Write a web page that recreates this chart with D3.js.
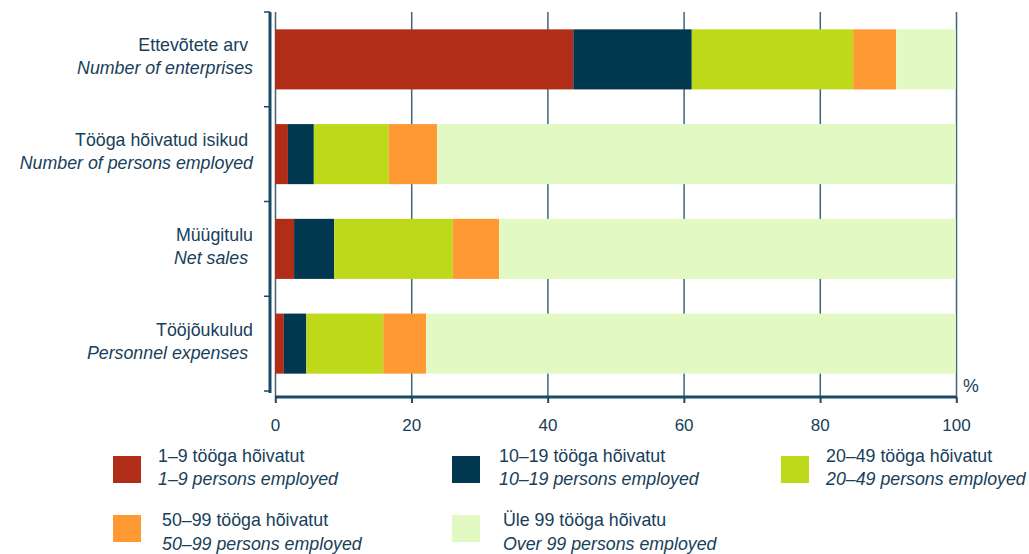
<!DOCTYPE html>
<html>
<head>
<meta charset="utf-8">
<script src="https://cdn.jsdelivr.net/npm/d3@7"></script>
<style>
  body { margin: 0; background: #fff; }
  text { font-family: "Liberation Sans", Arial, sans-serif; fill: #17405a; }
</style>
</head>
<body>
<svg id="chart" width="1029" height="554"></svg>
<script>
// categories (Estonian / English)
const categoriesEt = ['Ettevõtete arv ', 'Tööga hõivatud isikud ', 'Müügitulu', 'Tööjõukulud'];
const categoriesEn = ['Number of enterprises', 'Number of persons employed', 'Net sales ', 'Personnel expenses '];

// size classes
const seriesEt = ['1–9 tööga hõivatut', '10–19 tööga hõivatut', '20–49 tööga hõivatut', '50–99 tööga hõivatut', 'Üle 99 tööga hõivatu'];
const seriesEn = ['1–9 persons employed', '10–19 persons employed', '20–49 persons employed', '50–99 persons employed', 'Over 99 persons employed'];
const colors   = ['#b22d17', '#023750', '#bed91a', '#ff9933', '#e2f9c4'];

// shares, % (per category, per size class)
const s1to9    = [43.8, 1.9, 2.8, 1.3];
const s10to19  = [17.4, 3.8, 5.9, 3.3];
const s20to49  = [23.7, 11.0, 17.4, 11.3];
const s50to99  = [6.3, 7.1, 6.8, 6.3];
const sOver99  = [8.8, 76.2, 67.1, 77.8];

const xTicks = [0, 20, 40, 60, 80, 100];

const svg = d3.select('#chart');
const axisColor = '#1b4a66';
const fs = '17.8px';

const x = d3.scaleLinear().domain([0, 100]).range([275, 956]);
const y = d3.scaleBand().domain(d3.range(categoriesEt.length)).range([12, 391])
    .paddingInner(0.366).paddingOuter(0.183);

const rows = categoriesEt.map((c, i) => ({
    i: i, s0: s1to9[i], s1: s10to19[i], s2: s20to49[i], s3: s50to99[i], s4: sOver99[i]
}));
const stack = d3.stack().keys(['s0', 's1', 's2', 's3', 's4']);
const layers = stack(rows);

// gridlines
svg.append('g').selectAll('line').data(xTicks).join('line')
    .attr('x1', d => x(d) + 0.5).attr('x2', d => x(d) + 0.5)
    .attr('y1', 12).attr('y2', 403)
    .attr('stroke', '#3f6478').attr('stroke-width', 1.5);

// bars
svg.append('g').selectAll('g').data(layers).join('g')
    .attr('fill', (d, k) => colors[k])
    .selectAll('rect').data(d => d).join('rect')
    .attr('x', d => x(d[0]))
    .attr('y', d => y(d.data.i))
    .attr('width', d => x(d[1]) - x(d[0]))
    .attr('height', y.bandwidth());

// bottom axis
const xAxis = d3.axisBottom(x).tickValues(xTicks).tickSize(6).tickFormat(d3.format('d'));
const gx = svg.append('g').attr('transform', 'translate(0,397)').call(xAxis);
gx.select('.domain').attr('stroke', axisColor).attr('stroke-width', 3)
    .attr('d', `M${x(0)},0H${x(100) + 1}`);
gx.selectAll('.tick line').attr('stroke', axisColor).attr('stroke-width', 1.5).attr('x1', 0.5).attr('x2', 0.5);
gx.selectAll('.tick text').attr('y', 22).attr('dy', '0.71em')
    .style('font-size', '17px').style('font-family', '"Liberation Sans", Arial, sans-serif').attr('fill', '#17405a');

// left axis (category separators)
const bounds = d3.range(categoriesEt.length + 1).map(k => 12 + k * y.step());
const gy = svg.append('g');
gy.append('line').attr('x1', 270).attr('x2', 270).attr('y1', 12).attr('y2', 393)
    .attr('stroke', axisColor).attr('stroke-width', 3);
gy.selectAll('line.t').data(bounds).join('line').attr('class', 't')
    .attr('x1', 264).attr('x2', 270).attr('y1', d => d).attr('y2', d => d)
    .attr('stroke', axisColor).attr('stroke-width', 1.5);

// category labels
const labels = svg.append('g').selectAll('g').data(categoriesEt).join('g')
    .attr('transform', (d, i) => `translate(253,${y(i) + y.bandwidth() / 2})`);
labels.append('text').attr('text-anchor', 'end').attr('y', -8)
    .style('font-size', fs).style('white-space', 'pre').text(d => d);
labels.append('text').attr('text-anchor', 'end').attr('y', 15)
    .style('font-size', fs).style('font-style', 'italic').style('white-space', 'pre')
    .text((d, i) => categoriesEn[i]);

// unit
svg.append('text').attr('x', 963).attr('y', 392).style('font-size', fs).text('%');

// legend
const legPos = [[113, 456], [452, 456], [781, 456], [113, 515], [452, 515]];
const textDx = [45, 47, 45, 49, 51];
const leg = svg.append('g').selectAll('g').data(seriesEt).join('g')
    .attr('transform', (d, k) => `translate(${legPos[k][0]},${legPos[k][1]})`);
leg.append('rect').attr('width', 28).attr('height', 27).attr('fill', (d, k) => colors[k]);
leg.append('text').attr('x', (d, k) => textDx[k]).attr('y', (d, k) => k < 3 ? 6 : 11)
    .style('font-size', fs).text(d => d);
leg.append('text').attr('x', (d, k) => textDx[k]).attr('y', (d, k) => k < 3 ? 29 : 35)
    .style('font-size', fs).style('font-style', 'italic').text((d, k) => seriesEn[k]);
</script>
</body>
</html>
